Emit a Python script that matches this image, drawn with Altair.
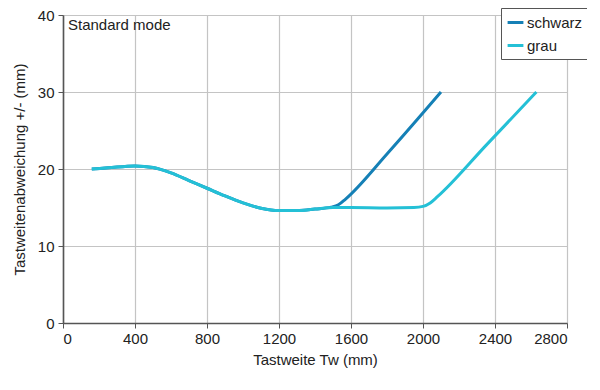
import altair as alt
import pandas as pd

schwarz_x = [160, 250, 400, 500, 600, 700, 800, 900, 1000, 1100, 1200, 1300, 1400, 1490, 1530, 1570, 1800, 2100]
schwarz_y = [20.0, 20.15, 20.4, 20.2, 19.5, 18.5, 17.5, 16.5, 15.6, 14.9, 14.6, 14.6, 14.8, 15.05, 15.35, 16.1, 21.95, 30.0]

grau_x = [160, 250, 400, 500, 600, 700, 800, 900, 1000, 1100, 1200, 1300, 1400, 1500, 1600, 1800, 1950, 2000, 2040, 2080, 2350, 2630]
grau_y = [20.0, 20.15, 20.4, 20.2, 19.5, 18.5, 17.5, 16.5, 15.6, 14.9, 14.6, 14.6, 14.8, 15.0, 15.0, 14.95, 15.0, 15.15, 15.6, 16.4, 23.07, 30.0]

series = ["schwarz", "grau"]
colors = ["#1580b6", "#24c0d6"]

df = pd.concat([
    pd.DataFrame({"x": schwarz_x, "y": schwarz_y, "s": "schwarz", "o": 0}),
    pd.DataFrame({"x": grau_x, "y": grau_y, "s": "grau", "o": 1}),
])

FONT = "Liberation Sans"

color = alt.Color(
    "s:N",
    scale=alt.Scale(domain=series, range=colors),
    legend=alt.Legend(
        title=None, orient="none", legendX=438, legendY=-7,
        strokeColor="#555555", fillColor="white", padding=5,
        symbolType="stroke", symbolStrokeWidth=3, symbolSize=250,
        labelFontSize=15, labelFont=FONT, labelColor="#222222",
        rowPadding=5, labelOffset=2,
    ),
)

lines = alt.Chart(df).mark_line(strokeWidth=3, interpolate="monotone").encode(
    x=alt.X("x:Q", scale=alt.Scale(domain=[0, 2800], nice=False),
            axis=alt.Axis(values=list(range(0, 2801, 400)), format="d", title="Tastweite Tw (mm)")),
    y=alt.Y("y:Q", scale=alt.Scale(domain=[0, 40], nice=False),
            axis=alt.Axis(values=[0, 10, 20, 30, 40], format="d", title="Tastweitenabweichung +/- (mm)")),
    color=color,
    detail="s:N",
    order="o:Q",
)

label = alt.Chart(pd.DataFrame({"t": ["Standard mode"]})).mark_text(
    align="left", baseline="top", fontSize=15, font=FONT, color="#222222"
).encode(x=alt.value(5), y=alt.value(3), text="t:N")

chart = alt.layer(lines, label).properties(
    width=504, height=308,
    autosize=alt.AutoSizeParams(type="none"),
    padding={"left": 55, "top": 7, "right": 20, "bottom": 55},
).configure_axis(
    gridColor="#c4c4c4", gridWidth=1.2,
    domainColor="#555555", domainWidth=1.6,
    tickColor="#555555", tickSize=5,
    labelFont=FONT, labelFontSize=15, labelColor="#222222",
    titleFont=FONT, titleFontSize=15, titleColor="#222222", titleFontWeight="normal",
).configure_axisX(labelPadding=3, titlePadding=6).configure_axisY(
    labelPadding=4, titlePadding=10
).configure_view(stroke=None)

chart.save("out.html", embed_options={"renderer": "svg", "actions": False})
